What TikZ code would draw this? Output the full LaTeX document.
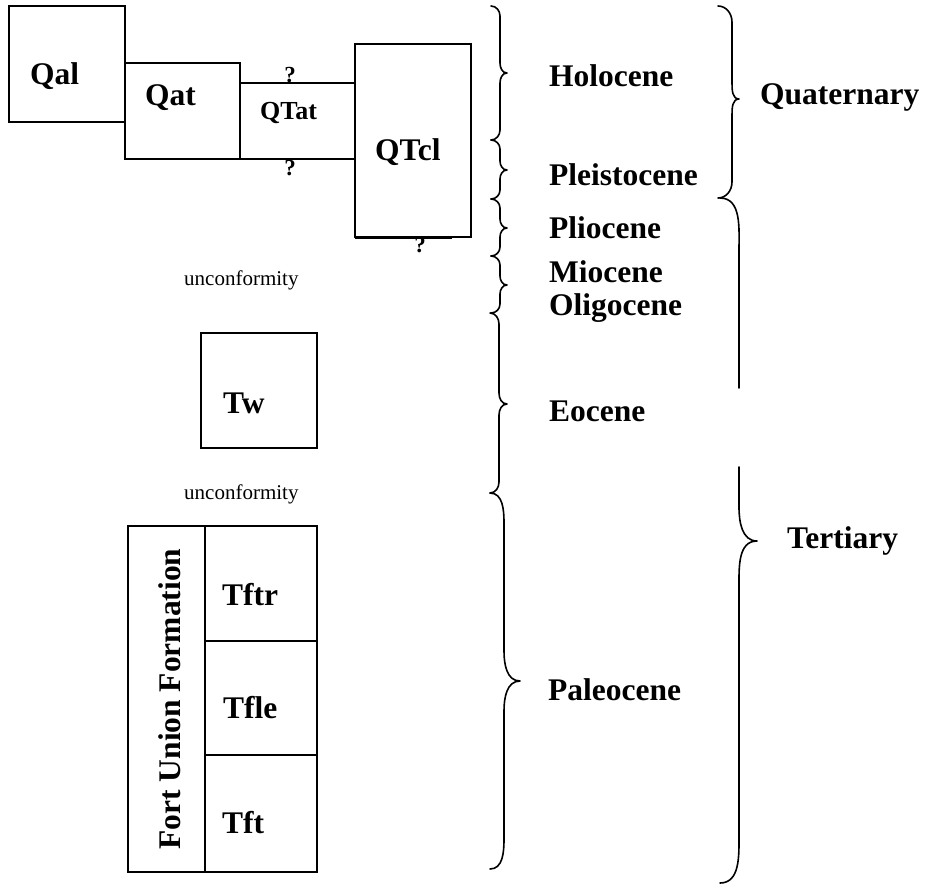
\documentclass[tikz,border=0pt]{standalone}
\usepackage{fontspec}
\setmainfont{Liberation Serif}
\newcommand{\geobrace}[7]{% xc, xl, xt, ytop, ymid, ybot, a
  \draw[brc] (#1,#4) to[out=0,in=90] (#2,#4+#7) -- (#2,#5-#7)
    to[out=-90,in=180] (#3,#5) to[out=180,in=90] (#2,#5+#7)
    -- (#2,#6-#7) to[out=-90,in=0] (#1,#6);}
\begin{document}
\begin{tikzpicture}[x=1pt,y=-1pt,
  box/.style={draw, line width=2.2pt},
  brc/.style={line width=1.6pt, line join=round, line cap=round},
  lbl/.style={inner sep=0pt, anchor=base west, font=\fontsize{31.5}{36}\selectfont\bfseries},
  qm/.style={inner sep=0pt, anchor=base, font=\fontsize{23}{26}\selectfont\bfseries},
  unc/.style={inner sep=0pt, anchor=base west, font=\fontsize{21}{24}\selectfont}]
\useasboundingbox (0,0) rectangle (929,884);
% Quaternary units
\draw[box] (9,6) rectangle (125,122);
\draw[box] (125,63) rectangle (240,159);
\draw[box] (240,83) rectangle (355,159);
\draw[box] (355,44) rectangle (471,237);
\draw[line width=3.2pt] (355,237.5) -- (452,237.5);
\node[lbl] (qal) at (30,84) {Qal};
\node[lbl] (qat) at (145,105) {Qat};
\node[lbl, font=\fontsize{26}{30}\selectfont\bfseries] (qtat) at (260,119) {QTat};
\node[lbl] (qtcl) at (375,160) {QTcl};
\node[qm] (q1) at (290,82) {?};
\node[qm] (q2) at (290,175) {?};
\node[qm] (q3) at (420,252) {?};
% unconformities and Tw
\node[unc] (unc1) at (184,285) {unconformity};
\draw[box] (201,333) rectangle (317,448);
\node[lbl] (tw) at (223,413) {Tw};
\node[unc] (unc2) at (184,499) {unconformity};
% Fort Union Formation
\draw[box] (128,526) rectangle (205,872);
\draw[box] (205,526) rectangle (317,641);
\draw[box] (205,641) rectangle (317,755);
\draw[box] (205,755) rectangle (317,872);
\node[inner sep=0pt, anchor=base, rotate=90, font=\fontsize{31.5}{36}\selectfont\bfseries] (fuf) at (180,699) {Fort Union Formation};
\node[lbl] (tftr) at (222,605) {Tftr};
\node[lbl] (tfle) at (223,718) {Tfle};
\node[lbl] (tft) at (222,833) {Tft};
% epoch braces
\geobrace{491}{500}{507}{6}{73}{140}{10}
\geobrace{491}{500}{507}{140}{170}{199}{9}
\geobrace{491}{500}{507}{199}{228}{256}{9}
\geobrace{491}{500}{507}{256}{285}{313}{9}
\geobrace{490}{499}{507}{313}{404}{493}{11}
\geobrace{490}{504}{520}{493}{681}{869}{30}
% epoch labels
\node[lbl] (holo) at (549,86) {Holocene};
\node[lbl] (pleis) at (549,185) {Pleistocene};
\node[lbl] (plio) at (549,238) {Pliocene};
\node[lbl] (mio) at (549,282) {Miocene};
\node[lbl] (oligo) at (549,315) {Oligocene};
\node[lbl] (eo) at (549,421) {Eocene};
\node[lbl] (paleo) at (548,700) {Paleocene};
% period braces
\geobrace{718}{732}{739}{6}{99}{198}{16}
\draw[brc] (720,198) to[out=0,in=90] (739,250) -- (739,388);
\draw[brc] (739,467) -- (739,507) to[out=-90,in=180] (757,541)
  to[out=180,in=90] (739,586) -- (739,835) to[out=-90,in=0] (720,883);
\node[lbl] (quat) at (760,104) {Quaternary};
\node[lbl] (tert) at (787,548) {Tertiary};
\end{tikzpicture}
\end{document}
